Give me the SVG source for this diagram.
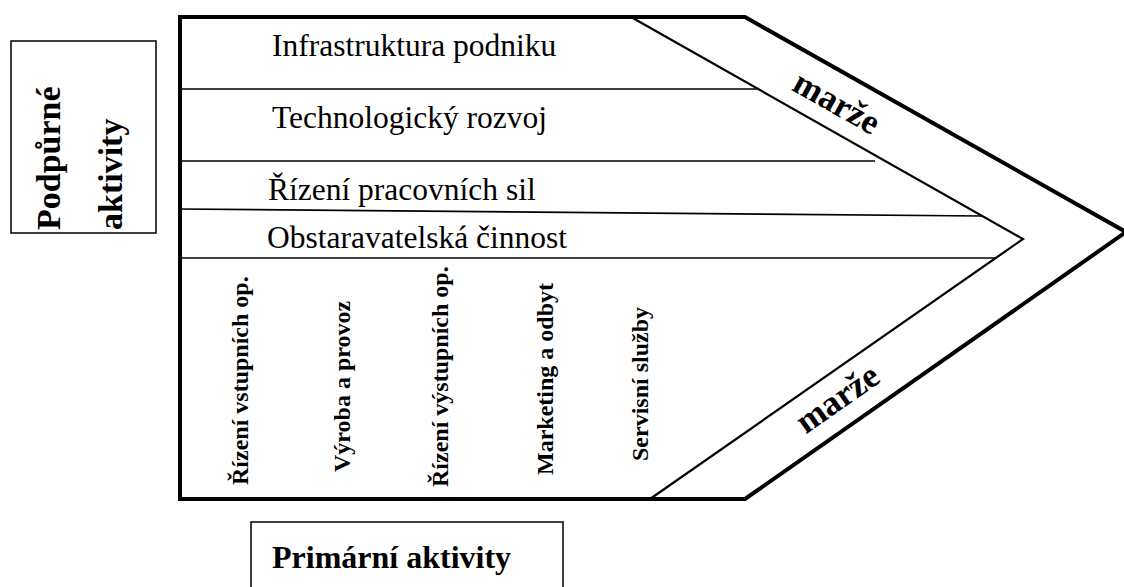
<svg xmlns="http://www.w3.org/2000/svg" width="1124" height="587" viewBox="0 0 1124 587">
  <style>
    .frame { fill: none; stroke: #000; stroke-width: 4; stroke-linejoin: miter; }
    .inner { fill: none; stroke: #000; stroke-width: 2.2; }
    .rule { fill: none; stroke: #000; stroke-width: 1.6; }
    .box { fill: #fff; stroke: #000; stroke-width: 1.5; }
    .support { font-family: "Liberation Serif", "Times New Roman", serif; font-size: 31.5px; fill: #000; }
    .primary { font-family: "Liberation Serif", "Times New Roman", serif; font-size: 24px; font-weight: bold; fill: #000; }
    .label { font-family: "Liberation Serif", "Times New Roman", serif; font-size: 32px; font-weight: bold; fill: #000; }
    .side { font-family: "Liberation Serif", "Times New Roman", serif; font-size: 34px; font-weight: bold; fill: #000; }
    .margin { font-family: "Liberation Serif", "Times New Roman", serif; font-size: 35px; font-weight: bold; fill: #000; }
  </style>
  <rect width="1124" height="587" fill="#fff"/>

  <!-- value chain arrow: outer frame and inner margin band -->
  <g id="value-chain">
    <path class="frame" d="M180,17 L745,17 L1126,232 L745,499 L180,499 Z"/>
    <polyline class="inner" points="631,17 1023,239 650,499"/>
  </g>

  <!-- separators between the support activities -->
  <g id="connectors">
    <line class="rule" x1="180" y1="89" x2="759" y2="89"/>
    <line class="rule" x1="180" y1="161" x2="875" y2="161"/>
    <line class="rule" x1="180" y1="209" x2="982" y2="216"/>
    <line class="rule" x1="180" y1="258" x2="996" y2="258"/>
  </g>

  <!-- support activities -->
  <g id="infrastruktura"><text class="support" x="272" y="56">Infrastruktura podniku</text></g>
  <g id="technologicky-rozvoj"><text class="support" x="272" y="128">Technologický rozvoj</text></g>
  <g id="rizeni-pracovnich-sil"><text class="support" x="268" y="200">Řízení pracovních sil</text></g>
  <g id="obstaravatelska-cinnost"><text class="support" x="267" y="248">Obstaravatelská činnost</text></g>

  <!-- primary activities, set vertically -->
  <g id="rizeni-vstupnich"><text class="primary" transform="translate(248,485) rotate(-90)">Řízení vstupních op.</text></g>
  <g id="vyroba-provoz"><text class="primary" transform="translate(350,472) rotate(-90)">Výroba a provoz</text></g>
  <g id="rizeni-vystupnich"><text class="primary" transform="translate(448,487) rotate(-90)">Řízení výstupních op.</text></g>
  <g id="marketing-odbyt"><text class="primary" transform="translate(553,475) rotate(-90)">Marketing a odbyt</text></g>
  <g id="servisni-sluzby"><text class="primary" transform="translate(648,461) rotate(-90)">Servisní služby</text></g>

  <!-- margin labels along the arrow head -->
  <g id="marze-top"><text class="margin" text-anchor="middle" transform="translate(837,102) rotate(29.5)" dy="12">marže</text></g>
  <g id="marze-bottom"><text class="margin" text-anchor="middle" transform="translate(837,398) rotate(-35)" dy="12">marže</text></g>

  <!-- caption boxes -->
  <g id="podpurne-aktivity">
    <rect class="box" x="11" y="41" width="145" height="192"/>
    <text class="side" transform="translate(60,230) rotate(-90)">Podpůrné</text>
    <text class="side" transform="translate(122,230) rotate(-90)">aktivity</text>
  </g>
  <g id="primarni-aktivity">
    <rect class="box" x="251" y="522" width="312" height="80"/>
    <text class="label" x="272" y="568">Primární aktivity</text>
  </g>
</svg>
